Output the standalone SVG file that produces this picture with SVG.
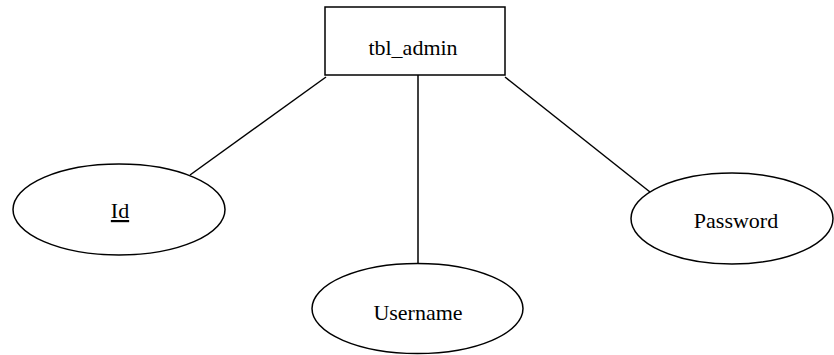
<svg xmlns="http://www.w3.org/2000/svg" width="834" height="355" viewBox="0 0 834 355">
<style>
.s{fill:#fff;stroke:#000;stroke-width:1.5}
.c line{stroke:#000;stroke-width:1.5}
text{font-family:"Liberation Serif","Times New Roman",serif;font-size:22px;fill:#000;text-anchor:middle}
</style>
<rect width="834" height="355" fill="#fff"/>
<g class="c" id="connectors">
<line x1="326" y1="77" x2="190" y2="175"/>
<line x1="418" y1="75" x2="418" y2="263"/>
<line x1="505" y1="77" x2="650" y2="192"/>
</g>
<g id="tbl_admin">
<rect class="s" x="325" y="7" width="180" height="68"/>
<text x="413" y="55">tbl_admin</text>
</g>
<g id="id">
<ellipse class="s" cx="119" cy="209.5" rx="106" ry="45.5"/>
<text x="120" y="218" text-decoration="underline">Id</text>
</g>
<g id="username">
<ellipse class="s" cx="417.5" cy="308.5" rx="105.5" ry="45"/>
<text x="418" y="320">Username</text>
</g>
<g id="password">
<ellipse class="s" cx="732" cy="218.5" rx="101" ry="45.5"/>
<text x="736" y="228">Password</text>
</g>
</svg>
